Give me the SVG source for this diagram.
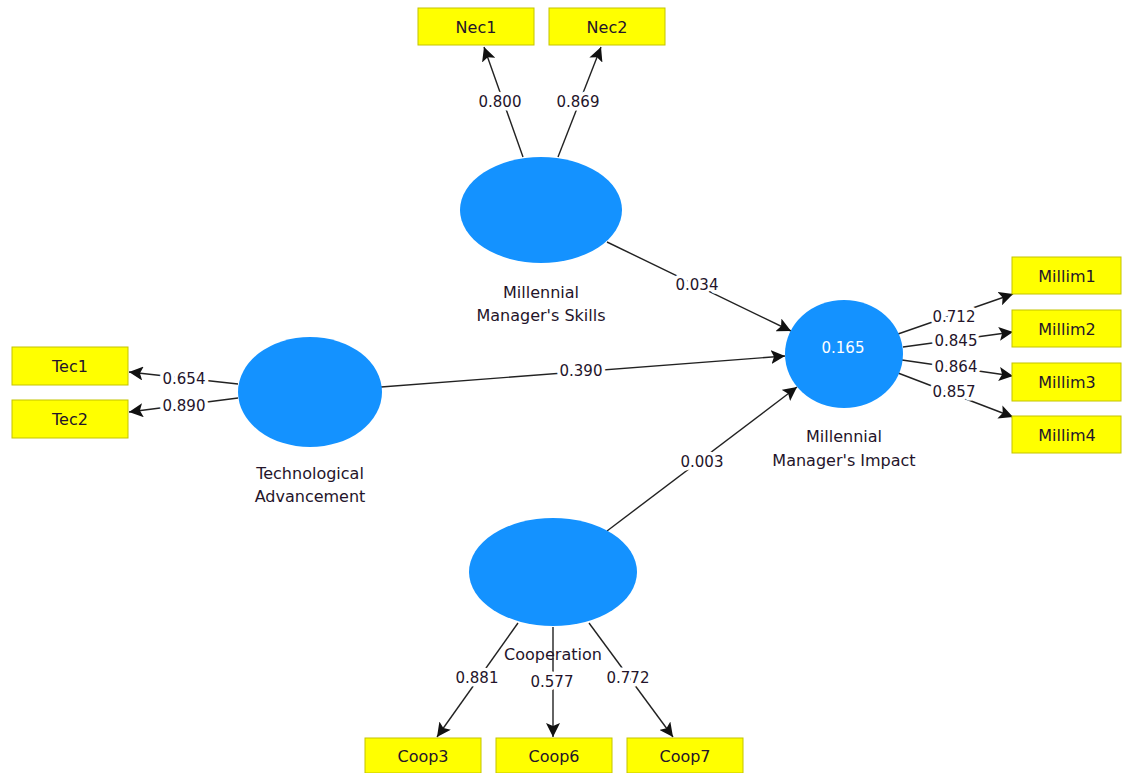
<svg xmlns="http://www.w3.org/2000/svg" width="1122" height="773" viewBox="0 0 1122 773">
<style>
.box{fill:#FFFF00;stroke:#C4C400;stroke-width:1}
.lv{fill:#1492FF}
.t{font-family:"DejaVu Sans",sans-serif;font-size:16px;fill:#24142a;text-anchor:middle;dominant-baseline:central}
.n{font-family:"DejaVu Sans",sans-serif;font-size:15px;fill:#24142a;text-anchor:middle;dominant-baseline:central;stroke:#fff;stroke-width:7;paint-order:stroke;stroke-linejoin:round}
.w{font-family:"DejaVu Sans",sans-serif;font-size:15px;fill:#fff;text-anchor:middle;dominant-baseline:central}
.c{stroke:#222;stroke-width:1.4;fill:none;marker-end:url(#ah)}
</style>
<defs>
<marker id="ah" markerUnits="userSpaceOnUse" markerWidth="15" markerHeight="14" refX="14" refY="7" orient="auto">
<path d="M0,0 L14,7 L0,14 L3,7 z" fill="#111"/>
</marker>
</defs>
<rect width="1122" height="773" fill="#fff"/>
<g id="connectors">
<line class="c" x1="523" y1="157" x2="484" y2="47"/>
<line class="c" x1="558" y1="157" x2="601" y2="47"/>
<line class="c" x1="607" y1="242" x2="791" y2="331"/>
<line class="c" x1="381" y1="387" x2="785" y2="356"/>
<line class="c" x1="607" y1="531" x2="797" y2="387"/>
<line class="c" x1="238" y1="384" x2="129" y2="372"/>
<line class="c" x1="238" y1="398" x2="129" y2="412"/>
<line class="c" x1="898" y1="334" x2="1013" y2="294"/>
<line class="c" x1="903" y1="347" x2="1013" y2="332"/>
<line class="c" x1="902" y1="360" x2="1013" y2="376"/>
<line class="c" x1="898" y1="373" x2="1013" y2="417"/>
<line class="c" x1="518" y1="623" x2="437" y2="737"/>
<line class="c" x1="553" y1="627" x2="553" y2="737"/>
<line class="c" x1="589" y1="623" x2="673" y2="737"/>
<text class="n" x="500" y="102">0.800</text>
<text class="n" x="578" y="102">0.869</text>
<text class="n" x="697" y="285">0.034</text>
<text class="n" x="581" y="371">0.390</text>
<text class="n" x="702" y="462">0.003</text>
<text class="n" x="184" y="379">0.654</text>
<text class="n" x="184" y="406">0.890</text>
<text class="n" x="954" y="317">0.712</text>
<text class="n" x="956" y="341">0.845</text>
<text class="n" x="956" y="367">0.864</text>
<text class="n" x="954" y="392">0.857</text>
<text class="n" x="477" y="678">0.881</text>
<text class="n" x="552" y="682">0.577</text>
<text class="n" x="628" y="678">0.772</text>
</g>
<g id="skills">
<ellipse class="lv" cx="541" cy="210" rx="81" ry="53"/>
<text class="t" x="541" y="292">Millennial</text>
<text class="t" x="541" y="315">Manager's Skills</text>
</g>
<g id="tech">
<ellipse class="lv" cx="310" cy="392" rx="72" ry="55"/>
<text class="t" x="310" y="473">Technological</text>
<text class="t" x="310" y="496">Advancement</text>
</g>
<g id="impact">
<ellipse class="lv" cx="844" cy="354" rx="59" ry="54"/>
<text class="w" x="843" y="348">0.165</text>
<text class="t" x="844" y="436">Millennial</text>
<text class="t" x="844" y="460">Manager's Impact</text>
</g>
<g id="coop">
<ellipse class="lv" cx="553" cy="572" rx="84" ry="54"/>
<text class="t" x="553" y="654">Cooperation</text>
</g>
<g id="nec1"><rect class="box" x="418" y="8" width="116" height="37"/><text class="t" x="476" y="27">Nec1</text></g>
<g id="nec2"><rect class="box" x="549" y="8" width="116" height="37"/><text class="t" x="607" y="27">Nec2</text></g>
<g id="tec1"><rect class="box" x="12" y="347" width="116" height="38"/><text class="t" x="70" y="366">Tec1</text></g>
<g id="tec2"><rect class="box" x="12" y="400" width="116" height="38"/><text class="t" x="70" y="419">Tec2</text></g>
<g id="millim1"><rect class="box" x="1012" y="257" width="109" height="37"/><text class="t" x="1067" y="276">Millim1</text></g>
<g id="millim2"><rect class="box" x="1012" y="310" width="109" height="37"/><text class="t" x="1067" y="329">Millim2</text></g>
<g id="millim3"><rect class="box" x="1012" y="363" width="109" height="38"/><text class="t" x="1067" y="382">Millim3</text></g>
<g id="millim4"><rect class="box" x="1012" y="416" width="109" height="37"/><text class="t" x="1067" y="435">Millim4</text></g>
<g id="coop3"><rect class="box" x="365" y="738" width="116" height="35"/><text class="t" x="423" y="756">Coop3</text></g>
<g id="coop6"><rect class="box" x="496" y="738" width="116" height="35"/><text class="t" x="554" y="756">Coop6</text></g>
<g id="coop7"><rect class="box" x="627" y="738" width="116" height="35"/><text class="t" x="685" y="756">Coop7</text></g>
</svg>
